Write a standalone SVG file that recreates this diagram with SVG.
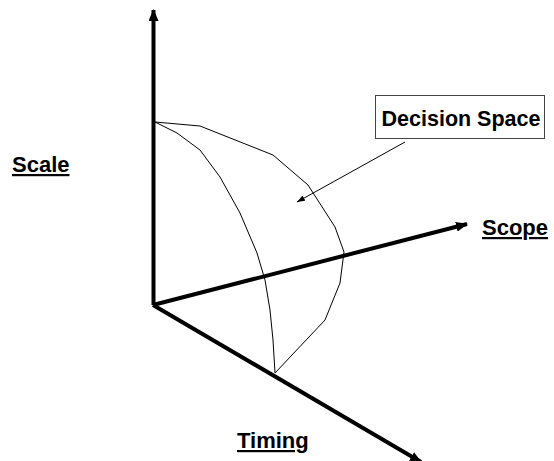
<svg xmlns="http://www.w3.org/2000/svg" width="554" height="461" viewBox="0 0 554 461">
<style>
.lbl{font-family:"Liberation Sans",Arial,sans-serif;font-weight:bold;font-size:22px;fill:#000;text-decoration:underline}
.axis{stroke:#000;stroke-width:4;fill:none}
.thin{stroke:#000;stroke-width:1;fill:none}
</style>
<defs>
<marker id="big" viewBox="0 0 12 10" refX="11" refY="5" markerWidth="12" markerHeight="10" markerUnits="userSpaceOnUse" orient="auto">
<path d="M0,0 L12,5 L0,10 Z" fill="#000"/>
</marker>
<marker id="small" viewBox="0 0 8 6" refX="8" refY="3" markerWidth="8" markerHeight="6" markerUnits="userSpaceOnUse" orient="auto">
<path d="M0,0 L8,3 L0,6 Z" fill="#000"/>
</marker>
</defs>
<rect width="554" height="461" fill="#fff"/>
<g id="surface">
<polyline class="thin" points="155,122 200,126 273,155 308,185 335,227 344,252 340,283 325,320 275,373"/>
<polyline class="thin" points="155,122 177,133 200,150 220,177 240,213 257,253 265,280 270,310 273,340 275,373"/>
</g>
<g id="connectors">
<line class="axis" x1="153.5" y1="305" x2="153.5" y2="10" marker-end="url(#big)"/>
<line class="axis" x1="153" y1="305" x2="467" y2="224" marker-end="url(#big)"/>
<line class="axis" x1="153" y1="305" x2="421" y2="462" marker-end="url(#big)"/>
<line class="thin" x1="405" y1="142" x2="297" y2="202" marker-end="url(#small)"/>
</g>
<g id="decision-space">
<rect x="375.5" y="95.5" width="169" height="43" fill="#fff" stroke="#444" stroke-width="1"/>
<text x="461" y="126" text-anchor="middle" font-family="Liberation Sans,Arial,sans-serif" font-weight="bold" font-size="21.5">Decision Space</text>
</g>
<g id="scale"><text class="lbl" x="12" y="172">Scale</text></g>
<g id="scope"><text class="lbl" x="482" y="235" font-size="21.5">Scope</text></g>
<g id="timing"><text class="lbl" x="237" y="448">Timing</text></g>
</svg>
